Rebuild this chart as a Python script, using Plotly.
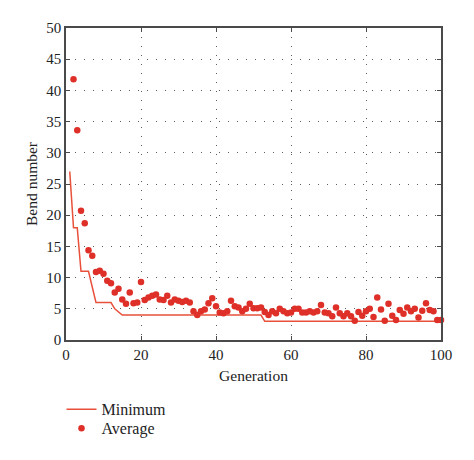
import plotly.graph_objects as go

# minimum bend number per generation (1..100)
gen_min = list(range(1, 101))
minimum = ([27, 18, 18, 11, 11, 11, 8.5] + [6] * 5 + [5, 4.5] + [4] * 38 + [3] * 48)

# average bend number per generation (2..100)
gen_avg = list(range(2, 101))
average = [41.8, 33.6, 20.7, 18.7, 14.4, 13.5, 10.9, 11.1, 10.6, 9.5,
           9.1, 7.6, 8.2, 6.5, 5.8, 7.6, 5.9, 6.0, 9.3, 6.4,
           6.8, 7.1, 7.3, 6.5, 6.4, 7.1, 6.0, 6.5, 6.3, 6.1,
           6.3, 6.0, 4.6, 4.0, 4.6, 4.9, 5.9, 6.7, 5.4, 4.4,
           4.3, 4.6, 6.3, 5.4, 5.2, 4.6, 5.0, 5.8, 5.1, 5.1,
           5.2, 4.5, 4.0, 4.6, 4.3, 5.0, 4.6, 4.3, 4.4, 5.0,
           5.0, 4.4, 4.4, 4.6, 4.4, 4.6, 5.6, 4.4, 4.3, 3.8,
           5.2, 4.3, 3.8, 4.3, 3.8, 3.1, 4.5, 3.9, 4.6, 5.0,
           3.7, 6.8, 4.9, 3.1, 5.8, 3.9, 3.2, 4.8, 4.2, 5.2,
           4.6, 5.0, 3.6, 4.7, 5.9, 4.8, 4.6, 3.2, 3.2]

font = "Liberation Serif"
frame = "#4a4a4a"

fig = go.Figure()
fig.add_trace(go.Scatter(x=gen_min, y=minimum, mode="lines", name="Minimum",
                         line=dict(color="#e8503a", width=1.5), cliponaxis=False,
                         legend="legend"))
fig.add_trace(go.Scatter(x=gen_avg, y=average, mode="markers", name="Average",
                         marker=dict(color="#de3028", size=6.5), cliponaxis=False,
                         legend="legend2"))

axis = dict(showline=True, linecolor=frame, linewidth=1.5, mirror="ticks",
            ticks="inside", ticklen=4, tickcolor=frame,
            showgrid=True, gridcolor="#5c5c5c", griddash="1.3px,7.7px", gridwidth=1.3,
            zeroline=False, tickfont=dict(family=font, size=15, color="#222222"),
            title_font=dict(family=font, size=15.5, color="#222222"))

fig.update_xaxes(axis, range=[0, 100], dtick=20, title_text="Generation", title_standoff=8)
fig.update_yaxes(axis, range=[0, 50], dtick=5, title_text="Bend number", title_standoff=5)

# one legend per entry so the two rows sit as tight as in the reference
leg = dict(xanchor="left", yanchor="middle", font=dict(family=font, size=16),
           itemwidth=30, bgcolor="rgba(0,0,0,0)")

# page adds ~8px offset, so margins are shifted to land the frame where the reference has it
fig.update_layout(
    width=474, height=460,
    margin=dict(l=58, r=41, t=20, b=128),
    plot_bgcolor="white", paper_bgcolor="white",
    font=dict(family=font, size=14, color="#222222"),
    showlegend=True,
    legend=dict(leg, x=-0.012, y=-0.222),
    legend2=dict(leg, x=-0.012, y=-0.283),
)

fig.write_html("out.html")
